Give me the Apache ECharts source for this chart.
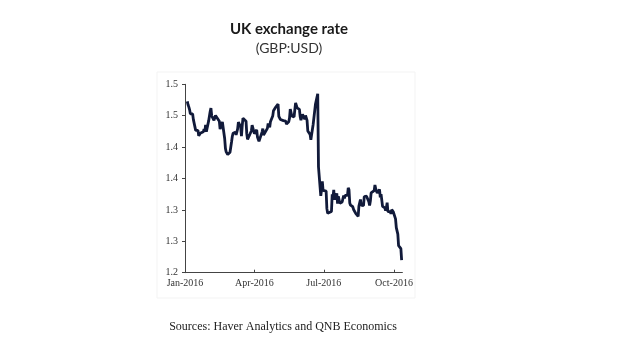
<!DOCTYPE html>
<html>
<head>
<meta charset="utf-8">
<script src="https://cdn.jsdelivr.net/npm/echarts@6/dist/echarts.min.js"></script>
<style>
html,body{margin:0;padding:0;background:#fff;}
#chart{width:620px;height:355px;}
</style>
</head>
<body>
<div id="chart"></div>
<script>
// Data (GBP:USD, business days 2016)
var dates = [
'2016-01-04','2016-01-05','2016-01-06','2016-01-07','2016-01-08','2016-01-11','2016-01-12','2016-01-13','2016-01-14','2016-01-15',
'2016-01-18','2016-01-19','2016-01-20','2016-01-21','2016-01-22','2016-01-25','2016-01-26','2016-01-27','2016-01-28','2016-01-29',
'2016-02-01','2016-02-02','2016-02-03','2016-02-04','2016-02-05','2016-02-08','2016-02-09','2016-02-10','2016-02-11','2016-02-12',
'2016-02-15','2016-02-16','2016-02-17','2016-02-18','2016-02-19','2016-02-22','2016-02-23','2016-02-24','2016-02-25','2016-02-26','2016-02-29',
'2016-03-01','2016-03-02','2016-03-03','2016-03-04','2016-03-07','2016-03-08','2016-03-09','2016-03-10','2016-03-11','2016-03-14',
'2016-03-15','2016-03-16','2016-03-17','2016-03-18','2016-03-21','2016-03-22','2016-03-23','2016-03-24','2016-03-25','2016-03-28',
'2016-03-29','2016-03-30','2016-03-31',
'2016-04-01','2016-04-04','2016-04-05','2016-04-06','2016-04-07','2016-04-08','2016-04-11','2016-04-12','2016-04-13','2016-04-14',
'2016-04-15','2016-04-18','2016-04-19','2016-04-20','2016-04-21','2016-04-22','2016-04-25','2016-04-26','2016-04-27','2016-04-28','2016-04-29',
'2016-05-02','2016-05-03','2016-05-04','2016-05-05','2016-05-06','2016-05-09','2016-05-10','2016-05-11','2016-05-12','2016-05-13',
'2016-05-16','2016-05-17','2016-05-18','2016-05-19','2016-05-20','2016-05-23','2016-05-24','2016-05-25','2016-05-26','2016-05-27',
'2016-05-30','2016-05-31',
'2016-06-01','2016-06-02','2016-06-03','2016-06-06','2016-06-07','2016-06-08','2016-06-09','2016-06-10','2016-06-13','2016-06-14',
'2016-06-15','2016-06-16','2016-06-17','2016-06-20','2016-06-21','2016-06-22','2016-06-23','2016-06-24','2016-06-27','2016-06-28',
'2016-06-29','2016-06-30',
'2016-07-01','2016-07-04','2016-07-05','2016-07-06','2016-07-07','2016-07-08','2016-07-11','2016-07-12','2016-07-13','2016-07-14',
'2016-07-15','2016-07-18','2016-07-19','2016-07-20','2016-07-21','2016-07-22','2016-07-25','2016-07-26','2016-07-27','2016-07-28','2016-07-29',
'2016-08-01','2016-08-02','2016-08-03','2016-08-04','2016-08-05','2016-08-08','2016-08-09','2016-08-10','2016-08-11','2016-08-12',
'2016-08-15','2016-08-16','2016-08-17','2016-08-18','2016-08-19','2016-08-22','2016-08-23','2016-08-24','2016-08-25','2016-08-26',
'2016-08-29','2016-08-30','2016-08-31',
'2016-09-01','2016-09-02','2016-09-05','2016-09-06','2016-09-07','2016-09-08','2016-09-09','2016-09-12','2016-09-13','2016-09-14',
'2016-09-15','2016-09-16','2016-09-19','2016-09-20','2016-09-21','2016-09-22','2016-09-23','2016-09-26','2016-09-27','2016-09-28',
'2016-09-29','2016-09-30',
'2016-10-03','2016-10-04','2016-10-05','2016-10-06','2016-10-07','2016-10-10','2016-10-11'
];
var rates = [
1.4729,1.4675,1.4640,1.4597,1.4530,1.4530,1.4437,1.4434,1.4433,1.4266,
1.4267,1.4178,1.4161,1.4220,1.4250,1.4243,1.4287,1.4242,1.4354,1.4247,
1.4417,1.4420,1.4567,1.4620,1.4499,1.4427,1.4450,1.4504,1.4482,1.4501,
1.4413,1.4285,1.4312,1.4313,1.4400,1.4137,1.3980,1.3923,1.3904,1.3880,1.3917,
1.3938,1.4081,1.4169,1.4221,1.4238,1.4196,1.4205,1.4290,1.4397,1.4320,
1.4173,1.4339,1.4460,1.4475,1.4413,1.4210,1.4123,1.4127,1.4133,1.4256,
1.4350,1.4378,1.4370,
1.4214,1.4275,1.4160,1.4124,1.4091,1.4115,1.4239,1.4295,1.4193,1.4193,
1.4203,1.4298,1.4375,1.4352,1.4317,1.4404,1.4494,1.4580,1.4587,1.4620,1.4614,
1.4684,1.4490,1.4487,1.4440,1.4428,1.4422,1.4445,1.4450,1.4415,1.4366,
1.4403,1.4461,1.4605,1.4590,1.4497,1.4482,1.4598,1.4703,1.4679,1.4624,
1.4600,1.4484,
1.4430,1.4436,1.4520,1.4445,1.4504,1.4514,1.4426,1.4256,1.4199,1.4118,
1.4200,1.4197,1.4360,1.4680,1.4680,1.4700,1.4850,1.3683,1.3225,1.3318,
1.3455,1.3312,
1.3295,1.3300,1.3020,1.2946,1.2920,1.2950,1.2975,1.3247,1.3205,1.3320,
1.3165,1.3262,1.3100,1.3218,1.3224,1.3106,1.3125,1.3135,1.3230,1.3185,1.3230,
1.3230,1.3352,1.3320,1.3110,1.3075,1.3050,1.3007,1.3010,1.2990,1.2940,
1.2898,1.3062,1.3039,1.3166,1.3075,1.3066,1.3213,1.3243,1.3233,1.3218,
1.3129,1.3070,1.3140,
1.3272,1.3287,1.3307,1.3396,1.3335,1.3306,1.3270,1.3325,1.3200,1.3250,
1.3243,1.3057,1.3032,1.2988,1.3035,1.3115,1.2973,1.2972,1.2936,1.3004,
1.2976,1.2970,
1.2858,1.2718,1.2738,1.2615,1.2432,1.2384,1.2200
];
var xTickDates = ['2016-01-01','2016-04-01','2016-07-01','2016-10-01'];
var xTickLabels = ['Jan-2016','Apr-2016','Jul-2016','Oct-2016'];
var yTickLabels = ['1.2','1.3','1.3','1.4','1.4','1.5','1.5'];

function ts(s){var p=s.split('-');return Date.UTC(+p[0],+p[1]-1,+p[2]);}
var xTickValues = xTickDates.map(ts);
var seriesData = dates.map(function(d,i){return [ts(d), rates[i]];});

var chart = echarts.init(document.getElementById('chart'), null, {renderer:'canvas'});
chart.setOption({
  animation:false,
  backgroundColor:'#ffffff',
  title:[
    {text:'UK exchange rate', left:284, top:17, textAlign:'center',
     textStyle:{fontFamily:'Lato', fontWeight:'bold', fontSize:15, color:'#1a1a1a'}},
    {text:'(GBP:USD)', left:284, top:36, textAlign:'center',
     textStyle:{fontFamily:'Lato', fontWeight:'normal', fontSize:14, color:'#333'}}
  ],
  graphic:[
    {type:'rect', shape:{x:157,y:72,width:258,height:226}, style:{fill:'none', stroke:'#f3f3f3', lineWidth:1}, silent:true},
    {type:'text', x:283, y:327, style:{text:'Sources: Haver Analytics and QNB Economics', fontFamily:'Liberation Serif', fontSize:12, fill:'#222', textAlign:'center', textVerticalAlign:'middle'}}
  ],
  grid:{left:185, right:217.6, top:84.3, bottom:82.3, containLabel:false},
  xAxis:{
    type:'value',
    min:ts('2016-01-01'), max:ts('2016-10-12'),
    axisLine:{lineStyle:{color:'#444', width:1}},
    axisTick:{show:true, inside:true, length:3, customValues:xTickValues, lineStyle:{color:'#444'}},
    axisLabel:{customValues:xTickValues, margin:6, fontFamily:'Liberation Serif', fontSize:10, color:'#333',
      formatter:function(v){var i=xTickValues.indexOf(v);return i>=0?xTickLabels[i]:'';}},
    splitLine:{show:false}
  },
  yAxis:{
    type:'value', min:1.2, max:1.5, interval:0.05,
    axisLine:{show:true, lineStyle:{color:'#444', width:1}},
    axisTick:{show:true, length:3, lineStyle:{color:'#444'}},
    axisLabel:{margin:7, fontFamily:'Liberation Serif', fontSize:10, color:'#333',
      formatter:function(v){return yTickLabels[Math.round((v-1.2)/0.05)];}},
    splitLine:{show:false}
  },
  series:[{
    type:'line', data:seriesData, showSymbol:false, symbol:'none',
    lineStyle:{color:'#111a3a', width:2.8}
  }]
});
</script>
</body>
</html>
